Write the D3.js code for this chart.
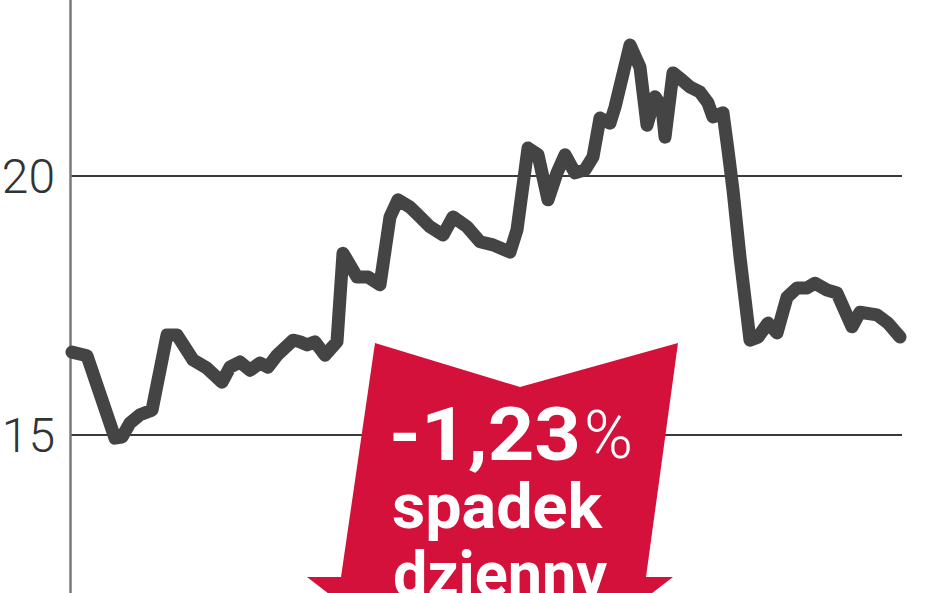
<!DOCTYPE html>
<html>
<head>
<meta charset="utf-8">
<script src="https://cdn.jsdelivr.net/npm/d3@7"></script>
<style>
  html, body { margin: 0; padding: 0; background: #fff; }
  svg { display: block; }
</style>
</head>
<body>
<svg id="chart" width="948" height="593"></svg>
<script>
// ---- data (day index, closing price) ----
const days = [0, 3, 8.6, 10, 11.6, 13.6, 16, 19, 21, 24.2, 27, 30, 31.6, 33.6, 35.6, 37.6, 39.2, 41,
  44.2, 45.6, 47, 48.6, 50.6, 53, 54.2, 57, 59.2, 61.6, 63.6, 65.2, 67.6, 69.6, 71.6, 74.2, 76.2,
  79, 81.6, 84.2, 87.6, 89, 91.2, 93.2, 95.2, 97, 98.6, 100.6, 102.6, 104.2, 105.6, 107.6, 108.6,
  111.6, 113.6, 115, 116.6, 118, 118.6, 120.2, 122, 123.6, 125.6, 127.2, 128.2, 130.2, 131.2,
  132.2, 133.6, 135.6, 137.2, 139.2, 141, 143, 145, 147, 148.6, 151, 153, 156, 157.6, 161, 163.2, 165.6];
const prices = [16.60, 16.53, 14.94, 14.96, 15.23, 15.39, 15.48, 16.93, 16.93, 16.45, 16.29, 16.02,
  16.31, 16.41, 16.25, 16.39, 16.31, 16.54, 16.83, 16.80, 16.74, 16.80, 16.54, 16.80, 18.51, 18.05,
  18.05, 17.90, 19.21, 19.54, 19.40, 19.21, 19.02, 18.86, 19.21, 19.02, 18.73, 18.67, 18.53, 18.96,
  20.54, 20.41, 19.54, 20.06, 20.41, 20.06, 20.12, 20.37, 21.12, 21.02, 21.33, 22.53, 22.10, 20.98,
  21.53, 21.33, 20.75, 21.99, 21.85, 21.72, 21.62, 21.41, 21.14, 21.22, 20.50, 19.73, 18.44, 16.83,
  16.89, 17.16, 16.97, 17.66, 17.84, 17.84, 17.93, 17.80, 17.74, 17.09, 17.37, 17.32, 17.16, 16.89];
const yTicks = [15, 20];
const badgeValue = "-1,23";
const badgePct = "%";
const badgeLines = ["spadek", "dzienny"];

// ---- layout ----
const svg = d3.select("#chart");
const W = 948, H = 593;
const x = d3.scaleLinear().domain([0, 166]).range([72, 902]);
const y = d3.scaleLinear().domain([15, 20]).range([435, 176]);

// gridlines
svg.append("g").selectAll("line").data(yTicks).join("line")
  .attr("x1", 71).attr("x2", 902)
  .attr("y1", d => y(d)).attr("y2", d => y(d))
  .attr("stroke", "#3a3a3a").attr("stroke-width", 2);

// tick labels
svg.append("g").selectAll("text").data(yTicks).join("text")
  .attr("x", 55).attr("y", d => y(d) + 16.5)
  .attr("text-anchor", "end")
  .attr("font-family", "Roboto, 'Noto Sans', sans-serif")
  .attr("font-weight", 300)
  .attr("font-size", 48)
  .attr("fill", "#333")
  .text(d => d);

// vertical axis line
svg.append("line")
  .attr("x1", 70.5).attr("x2", 70.5).attr("y1", 0).attr("y2", H)
  .attr("stroke", "#7a7a7a").attr("stroke-width", 2.5);

// price line
const data = days.map((d, i) => ({ d, v: prices[i] }));
svg.append("path")
  .datum(data)
  .attr("fill", "none")
  .attr("stroke", "#444444")
  .attr("stroke-width", 13)
  .attr("stroke-linejoin", "round")
  .attr("stroke-linecap", "round")
  .attr("d", d3.line().x(p => x(p.d)).y(p => y(p.v)));

// red arrow badge
const arrowShape = [[375, 343], [520, 387], [678, 343], [646, 577], [673, 577], [490, 718], [307, 577], [341, 577]];
svg.append("path")
  .attr("d", d3.line()(arrowShape) + "Z")
  .attr("fill", "#d3113b");

const g = svg.append("g")
  .attr("font-family", "Roboto, 'Noto Sans', sans-serif")
  .attr("fill", "#fff");

g.append("text")
  .attr("x", 389).attr("y", 460)
  .attr("font-size", 75).attr("font-weight", 700)
  .attr("textLength", 192).attr("lengthAdjust", "spacingAndGlyphs")
  .text(badgeValue);
g.append("text")
  .attr("x", 584).attr("y", 458)
  .attr("font-size", 66).attr("font-weight", 300)
  .attr("textLength", 49).attr("lengthAdjust", "spacingAndGlyphs")
  .text(badgePct);
g.append("text")
  .attr("x", 392).attr("y", 528)
  .attr("font-size", 63).attr("font-weight", 700)
  .attr("textLength", 210).attr("lengthAdjust", "spacingAndGlyphs")
  .text(badgeLines[0]);
g.append("text")
  .attr("x", 393).attr("y", 596)
  .attr("font-size", 63).attr("font-weight", 700)
  .attr("textLength", 214).attr("lengthAdjust", "spacingAndGlyphs")
  .text(badgeLines[1]);
</script>
</body>
</html>
